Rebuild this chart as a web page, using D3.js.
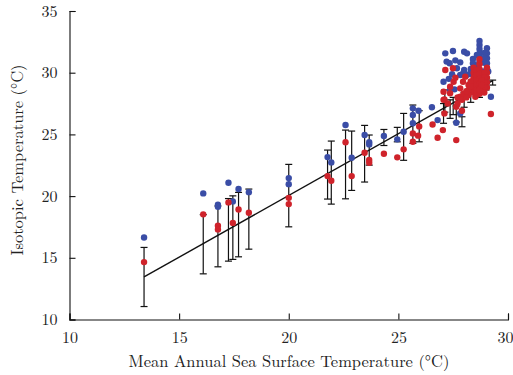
<!DOCTYPE html>
<html><head><meta charset="utf-8">
<script src="https://cdn.jsdelivr.net/npm/d3@7"></script>
<style>
html,body{margin:0;padding:0;background:#fff;}
svg{display:block;}
text{font-family:"Latin Modern Roman","CMU Serif","Liberation Serif","DejaVu Serif",serif;fill:#222;}
</style></head><body>
<svg id="c" width="513" height="375"></svg>
<script>
// ---- data ----
const xTicks = [10, 15, 20, 25, 30];
const yTicks = [10, 15, 20, 25, 30, 35];
const xTitle = "Mean Annual Sea Surface Temperature (°C)";
const yTitle = "Isotopic Temperature (°C)";

const errX    = [13.4, 16.1, 16.77, 17.25, 17.45, 17.71, 18.18, 20.0, 21.77, 21.94, 22.59, 22.87, 23.46, 23.67, 24.34, 24.95, 25.24, 25.66, 25.95, 27.06, 27.12, 27.36, 27.5, 27.64, 27.9, 28.0, 28.3, 28.7, 29.0, 29.3];
const errLow  = [11.05, 13.7, 14.27, 14.73, 14.87, 15.08, 15.7, 17.51, 19.76, 19.35, 19.78, 20.46, 21.14, 22.51, 24.1, 24.4, 22.9, 24.27, 24.4, 25.9, 26.8, 26.3, 26.6, 26.0, 25.62, 27.2, 27.6, 28.0, 28.6, 29.0];
const errHigh = [15.84, 18.5, 19.2, 19.8, 20.02, 20.3, 20.57, 22.57, 23.73, 24.46, 25.35, 25.27, 25.73, 24.95, 25.4, 25.57, 26.7, 27.38, 26.92, 27.5, 28.6, 27.8, 28.0, 27.3, 26.43, 28.4, 28.6, 28.7, 29.3, 29.4];

const blueX = [13.4, 16.1, 16.77, 16.77, 17.25, 17.45, 17.71, 18.18, 20.0, 20.0, 21.77, 21.94, 22.59, 22.87, 23.46, 23.67, 23.67, 24.34, 24.95, 25.24, 25.66, 25.66, 25.66, 25.92, 26.53, 26.79,
  27.14, 27.49, 28.0, 28.13, 27.34, 27.82, 28.4, 28.58, 28.7, 28.7, 28.7, 28.7, 28.7, 28.7, 29.04, 29.04, 29.04, 29.04, 29.04, 28.92, 28.92, 28.92,
  27.45, 27.82, 28.0, 27.06, 27.67, 28.4, 27.36, 27.56, 27.97, 28.1, 29.22, 27.64, 27.82, 28.3, 28.55, 28.85, 28.8, 29.1, 28.62, 28.25,
  27.2, 27.6, 27.3];
const blueY = [16.65, 20.22, 19.3, 19.13, 21.08, 19.57, 20.57, 20.32, 21.46, 20.97, 23.16, 22.73, 25.76, 23.11, 24.95, 24.36, 24.19, 24.87, 24.6, 25.22, 27.11, 26.57, 25.9, 26.92, 27.2, 26.16,
  31.57, 31.76, 31.7, 31.57, 30.76, 30.84, 31.11, 31.43, 32.57, 32.25, 31.92, 31.57, 31.22, 30.9, 31.98, 31.57, 31.17, 30.76, 30.36, 31.6, 31.2, 30.8,
  29.87, 29.81, 30.22, 29.27, 30.36, 30.76, 28.6, 28.65, 30.0, 29.8, 28.05, 25.95, 26.7, 30.3, 30.5, 30.1, 29.9, 30.1, 30.6, 29.9,
  30.9, 31.0, 29.5];

const redX = [13.4, 16.1, 16.77, 16.77, 17.25, 17.45, 17.71, 18.18, 20.0, 20.0, 21.77, 21.94, 22.59, 22.87, 23.46, 23.67, 23.67, 24.34, 24.95, 25.24, 25.66, 25.66, 25.95, 25.9, 26.56, 26.79,
  27.14, 27.49, 27.95, 28.05, 27.52, 27.36, 27.82, 27.06,
  28.43, 28.43, 28.43, 28.43, 28.43, 28.43,
  28.55, 28.55, 28.55, 28.55, 28.55, 28.55,
  28.7, 28.7, 28.7, 28.7, 28.7, 28.7, 28.7, 28.7,
  29.04, 29.04, 29.04, 29.04, 29.04,
  28.92, 28.92, 28.92, 28.92, 28.92,
  27.1, 28.51, 29.22, 27.1, 27.03, 27.64, 27.9, 27.06, 27.64, 27.9, 28.7, 27.36, 27.82, 27.97,
  28.2, 28.2, 28.2, 27.7, 27.7, 28.1, 28.1, 28.3, 28.3, 27.25, 27.6, 28.8, 28.8];
const redY = [14.65, 18.52, 17.6, 17.3, 19.49, 17.83, 18.92, 18.65, 19.86, 19.35, 21.62, 21.24, 24.36, 21.62, 23.51, 22.92, 22.7, 23.43, 23.14, 23.79, 25.08, 24.4, 25.65, 24.9, 25.8, 24.73,
  30.22, 30.36, 29.27, 29.68, 29.27, 28.86, 28.73, 28.46,
  30.4, 30.0, 29.6, 29.2, 28.8, 28.4,
  30.2, 29.8, 29.4, 29.0, 28.6, 28.2,
  31.1, 30.7, 30.3, 29.9, 29.5, 29.1, 28.7, 28.3,
  30.4, 30.0, 29.6, 29.2, 28.8,
  30.0, 29.6, 29.2, 28.8, 28.4,
  27.84, 28.05, 26.65, 26.7, 25.35, 24.54, 27.8, 27.8, 27.24, 26.92, 28.6, 28.33, 28.05, 28.3,
  29.0, 28.6, 28.2, 28.0, 27.5, 28.5, 28.0, 29.3, 28.9, 27.5, 29.6, 29.4, 29.0];

const fitX = [13.4, 29.3];
const fitY = [13.45, 29.35];

const blueColor = "#3a4da6";
const redColor = "#cf232b";

// ---- chart ----
const svg = d3.select("#c");
const x = d3.scaleLinear().domain([10, 30]).range([69.5, 508]);
const y = d3.scaleLinear().domain([10, 35]).range([319.5, 11]);

// error bars
const eb = svg.append("g").attr("stroke", "#111").attr("stroke-width", 1.2);
errX.forEach((xv, i) => {
  const px = x(xv);
  eb.append("line").attr("x1", px).attr("x2", px).attr("y1", y(errLow[i])).attr("y2", y(errHigh[i]));
  eb.append("line").attr("x1", px - 3.5).attr("x2", px + 3.5).attr("y1", y(errLow[i])).attr("y2", y(errLow[i]));
  eb.append("line").attr("x1", px - 3.5).attr("x2", px + 3.5).attr("y1", y(errHigh[i])).attr("y2", y(errHigh[i]));
});

// fit line
svg.append("path")
  .attr("d", d3.line().x(d => x(d[0])).y(d => y(d[1]))(fitX.map((v, i) => [v, fitY[i]])))
  .attr("stroke", "#111").attr("stroke-width", 1.4).attr("fill", "none");

// dots
svg.append("g").selectAll("circle").data(blueX.map((v, i) => [v, blueY[i]])).join("circle")
  .attr("cx", d => x(d[0])).attr("cy", d => y(d[1])).attr("r", 3.2).attr("fill", blueColor);
svg.append("g").selectAll("circle").data(redX.map((v, i) => [v, redY[i]])).join("circle")
  .attr("cx", d => x(d[0])).attr("cy", d => y(d[1])).attr("r", 3.2).attr("fill", redColor);

// axes
const xAxis = svg.append("g").attr("transform", "translate(0,319.5)")
  .call(d3.axisBottom(x).tickValues(xTicks).tickSize(-6).tickPadding(12).tickFormat(d3.format("d")));
const yAxis = svg.append("g").attr("transform", "translate(69.5,0)")
  .call(d3.axisLeft(y).tickValues(yTicks).tickSize(-6).tickPadding(12).tickFormat(d3.format("d")));
[xAxis, yAxis].forEach(a => {
  a.select(".domain").attr("stroke", "#111").attr("stroke-width", 1.1);
  a.selectAll(".tick line").attr("stroke", "#111").attr("stroke-width", 1.1);
  a.selectAll(".tick text").attr("fill", "#222").style("font-size", "16px")
   .style("font-family", '"Latin Modern Roman","CMU Serif","Liberation Serif",serif');
});
xAxis.selectAll(".tick text").attr("dy", "0.71em");
// keep the last x label inside the picture
xAxis.selectAll(".tick text").filter(d => d === 30).attr("text-anchor", "end").attr("dx", 5);

svg.append("text").attr("x", 289).attr("y", 367).attr("text-anchor", "middle")
  .style("font-size", "16.5px").text(xTitle);
svg.append("text").attr("transform", "translate(23,160) rotate(-90)").attr("text-anchor", "middle")
  .style("font-size", "16.5px").text(yTitle);
</script>
</body></html>
